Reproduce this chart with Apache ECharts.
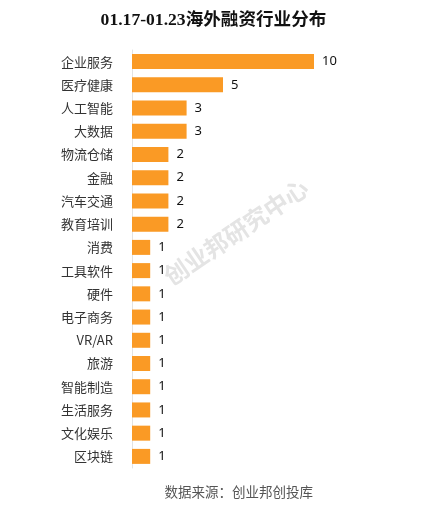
<!DOCTYPE html>
<html>
<head>
<meta charset="utf-8">
<script src="https://cdn.jsdelivr.net/npm/echarts@6/dist/echarts.min.js"></script>
<style>
  html, body { margin: 0; padding: 0; background: #fff; }
  #chart { width: 427px; height: 511px; }
</style>
</head>
<body>
<div id="chart"></div>
<script>
var categories = ['企业服务', '医疗健康', '人工智能', '大数据', '物流仓储', '金融', '汽车交通', '教育培训',
  '消费', '工具软件', '硬件', '电子商务', 'VR/AR', '旅游', '智能制造', '生活服务', '文化娱乐', '区块链'];
var counts = [10, 5, 3, 3, 2, 2, 2, 2, 1, 1, 1, 1, 1, 1, 1, 1, 1, 1];

var chart = echarts.init(document.getElementById('chart'));

var option = {
    backgroundColor: '#fff',
    title: {
        text: '01.17-01.23海外融资行业分布',
        left: 'center',
        top: 7,
        textStyle: {
            fontFamily: '"Liberation Serif", "Noto Sans CJK SC", serif',
            fontWeight: 'bold',
            fontSize: 17.6,
            color: '#111'
        }
    },
    graphic: [
        {
            type: 'text',
            x: 236,
            y: 232,
            rotation: 34 * Math.PI / 180,
            style: {
                text: '创业邦研究中心',
                fontSize: 24,
                fontWeight: 'bold',
                fontFamily: '"Noto Sans CJK SC", sans-serif',
                fill: '#e4e4e4',
                align: 'center',
                verticalAlign: 'middle'
            },
            z: -1
        },
        {
            type: 'text',
            x: 313,
            y: 492,
            style: {
                text: '数据来源：创业邦创投库',
                fontSize: 13.5,
                fontFamily: '"Noto Sans CJK SC", sans-serif',
                fill: '#555',
                align: 'right',
                verticalAlign: 'middle'
            }
        }
    ],
    grid: {
        left: 132,
        width: 182,
        top: 50,
        height: 418
    },
    xAxis: {
        type: 'value',
        min: 0,
        max: 10,
        show: false
    },
    yAxis: {
        type: 'category',
        inverse: true,
        data: categories,
        axisLine: { show: true, lineStyle: { color: '#e3e3e3', width: 1 } },
        axisTick: { show: false },
        axisLabel: {
            margin: 19,
            fontSize: 13,
            color: '#333',
            fontFamily: '"Noto Sans CJK SC", sans-serif'
        }
    },
    series: [
        {
            type: 'bar',
            data: counts,
            barWidth: 15,
            itemStyle: { color: '#FA9A25' },
            label: {
                show: true,
                position: 'right',
                distance: 8,
                fontSize: 13,
                color: '#111',
                fontFamily: '"Noto Sans", sans-serif'
            }
        }
    ]
};

chart.setOption(option);
</script>
</body>
</html>
